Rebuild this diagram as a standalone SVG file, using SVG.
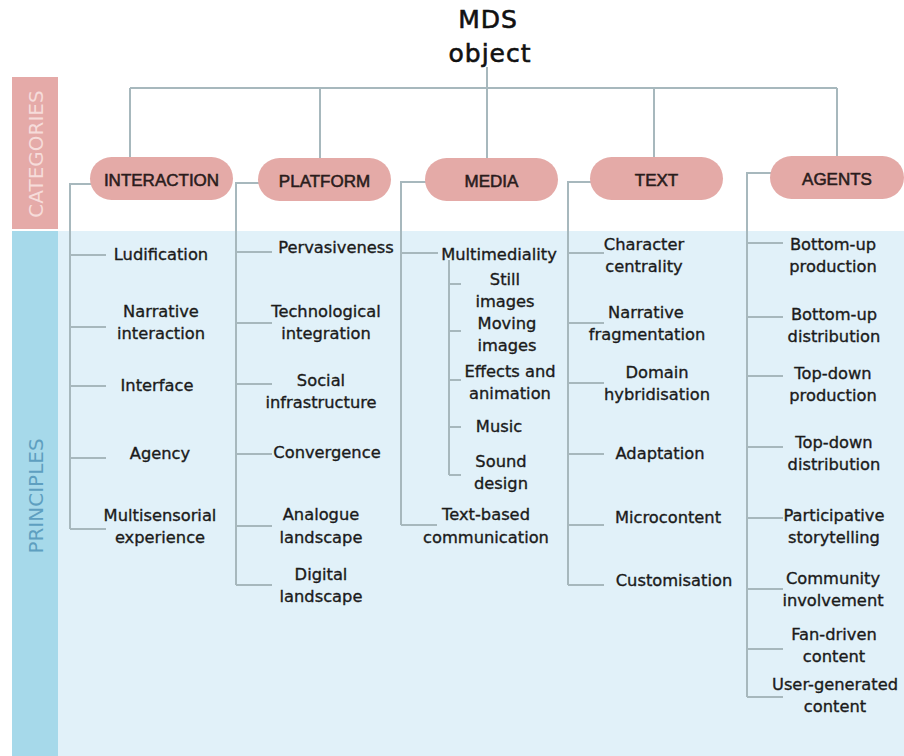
<svg xmlns="http://www.w3.org/2000/svg" width="904" height="756" viewBox="0 0 904 756">
<style>
.lbl{font-family:"DejaVu Sans",sans-serif;font-size:16.3px;fill:#1b1b1b;stroke:#1b1b1b;stroke-width:0.35px;text-anchor:middle}
.cat{font-family:"Liberation Sans",Arial,sans-serif;font-size:17px;fill:#2a1c1c;stroke:#2a1c1c;stroke-width:0.55px;text-anchor:middle}
.pill{fill:#e4aaa7}
.ln{fill:none;stroke:#a7b8bd;stroke-width:2}
.band{font-family:"DejaVu Sans",sans-serif;font-size:20px;text-anchor:middle}
.ttl{font-family:"DejaVu Sans",sans-serif;font-size:25px;letter-spacing:1px;text-anchor:middle;fill:#111;stroke:#111;stroke-width:0.6px}
</style>
<rect x="0" y="0" width="904" height="756" fill="#ffffff"/>
<rect x="57" y="231" width="847" height="525" fill="#e1f1f9"/>
<rect x="12" y="77" width="46" height="152" fill="#e5aaa8"/>
<rect x="12" y="231" width="46" height="525" fill="#a6d9ea"/>
<text class="band" transform="translate(35.5,154) rotate(-90)" y="7" fill="#f6dcda">CATEGORIES</text>
<text class="band" transform="translate(35.5,496) rotate(-90)" y="7" fill="#5e9fc0">PRINCIPLES</text>

<g id="root">
<text class="ttl" x="488" y="28">MDS</text>
<text class="ttl" x="490" y="62">object</text>
</g>

<g id="connectors">
<path class="ln" d="M487 67V158M130 88H837M130 88V158M320 88V158M654 88V158M837 88V157"/>
<path class="ln" d="M92 184H70V529M70 255H106M70 327H106M70 386H106M70 458H106M70 529H106"/>
<path class="ln" d="M260 183H236V585M236 252H272M236 323H272M236 384H272M236 454H272M236 526H272M236 585H272"/>
<path class="ln" d="M427 182H401V525M401 253H438M401 525H437"/>
<path class="ln" d="M449 260V475M449 284H461M449 331H461M449 380H461M449 427H461M449 475H461"/>
<path class="ln" d="M592 182H568V585M568 253H604M568 323H604M568 383H604M568 454H604M568 525H604M568 585H604"/>
<path class="ln" d="M772 173H747V697M747 243H783M747 317H783M747 376H783M747 447H783M747 518H783M747 589H783M747 649H783M747 697H783"/>
</g>

<g id="cat-interaction"><rect class="pill" x="90" y="157" width="143" height="43" rx="21.5"/><text class="cat" x="161.5" y="186">INTERACTION</text></g>
<g id="cat-platform"><rect class="pill" x="258" y="158" width="133" height="43" rx="21.5"/><text class="cat" x="324.5" y="187">PLATFORM</text></g>
<g id="cat-media"><rect class="pill" x="425" y="158" width="133" height="43" rx="21.5"/><text class="cat" x="491.5" y="187">MEDIA</text></g>
<g id="cat-text"><rect class="pill" x="590" y="157" width="133" height="43" rx="21.5"/><text class="cat" x="656.5" y="186">TEXT</text></g>
<g id="cat-agents"><rect class="pill" x="770" y="156" width="134" height="43" rx="21.5"/><text class="cat" x="837" y="185">AGENTS</text></g>

<g id="interaction-principles">
<g id="p-ludification"><text class="lbl" x="161" y="260">Ludification</text></g>
<g id="p-narrative-interaction"><text class="lbl" x="161" y="317">Narrative</text><text class="lbl" x="161" y="339">interaction</text></g>
<g id="p-interface"><text class="lbl" x="157" y="391">Interface</text></g>
<g id="p-agency"><text class="lbl" x="160" y="459">Agency</text></g>
<g id="p-multisensorial"><text class="lbl" x="160" y="521">Multisensorial</text><text class="lbl" x="160" y="543">experience</text></g>
</g>

<g id="platform-principles">
<g id="p-pervasiveness"><text class="lbl" x="336" y="253">Pervasiveness</text></g>
<g id="p-tech"><text class="lbl" x="326" y="317">Technological</text><text class="lbl" x="326" y="339">integration</text></g>
<g id="p-social"><text class="lbl" x="321" y="386">Social</text><text class="lbl" x="321" y="408">infrastructure</text></g>
<g id="p-convergence"><text class="lbl" x="327" y="458">Convergence</text></g>
<g id="p-analogue"><text class="lbl" x="321" y="520">Analogue</text><text class="lbl" x="321" y="543">landscape</text></g>
<g id="p-digital"><text class="lbl" x="321" y="580">Digital</text><text class="lbl" x="321" y="602">landscape</text></g>
</g>

<g id="media-principles">
<g id="p-multimediality"><text class="lbl" x="499" y="260">Multimediality</text></g>
<g id="p-still"><text class="lbl" x="505" y="285">Still</text><text class="lbl" x="505" y="307">images</text></g>
<g id="p-moving"><text class="lbl" x="507" y="329">Moving</text><text class="lbl" x="507" y="351">images</text></g>
<g id="p-effects"><text class="lbl" x="510" y="377">Effects and</text><text class="lbl" x="510" y="399">animation</text></g>
<g id="p-music"><text class="lbl" x="499" y="432">Music</text></g>
<g id="p-sound"><text class="lbl" x="501" y="467">Sound</text><text class="lbl" x="501" y="489">design</text></g>
<g id="p-textbased"><text class="lbl" x="486" y="520">Text-based</text><text class="lbl" x="486" y="543">communication</text></g>
</g>

<g id="text-principles">
<g id="p-character"><text class="lbl" x="644" y="250">Character</text><text class="lbl" x="644" y="272">centrality</text></g>
<g id="p-fragmentation"><text class="lbl" x="646" y="318">Narrative</text><text class="lbl" x="647" y="340">fragmentation</text></g>
<g id="p-domain"><text class="lbl" x="657" y="378">Domain</text><text class="lbl" x="657" y="400">hybridisation</text></g>
<g id="p-adaptation"><text class="lbl" x="660" y="459">Adaptation</text></g>
<g id="p-microcontent"><text class="lbl" x="668" y="523">Microcontent</text></g>
<g id="p-customisation"><text class="lbl" x="674" y="586">Customisation</text></g>
</g>

<g id="agents-principles">
<g id="p-bu-prod"><text class="lbl" x="833" y="250">Bottom-up</text><text class="lbl" x="833" y="272">production</text></g>
<g id="p-bu-dist"><text class="lbl" x="834" y="320">Bottom-up</text><text class="lbl" x="834" y="342">distribution</text></g>
<g id="p-td-prod"><text class="lbl" x="833" y="379">Top-down</text><text class="lbl" x="833" y="401">production</text></g>
<g id="p-td-dist"><text class="lbl" x="834" y="448">Top-down</text><text class="lbl" x="834" y="470">distribution</text></g>
<g id="p-participative"><text class="lbl" x="834" y="521">Participative</text><text class="lbl" x="834" y="543">storytelling</text></g>
<g id="p-community"><text class="lbl" x="833" y="584">Community</text><text class="lbl" x="833" y="606">involvement</text></g>
<g id="p-fan"><text class="lbl" x="834" y="640">Fan-driven</text><text class="lbl" x="834" y="662">content</text></g>
<g id="p-ugc"><text class="lbl" x="835" y="690">User-generated</text><text class="lbl" x="835" y="712">content</text></g>
</g>
</svg>
